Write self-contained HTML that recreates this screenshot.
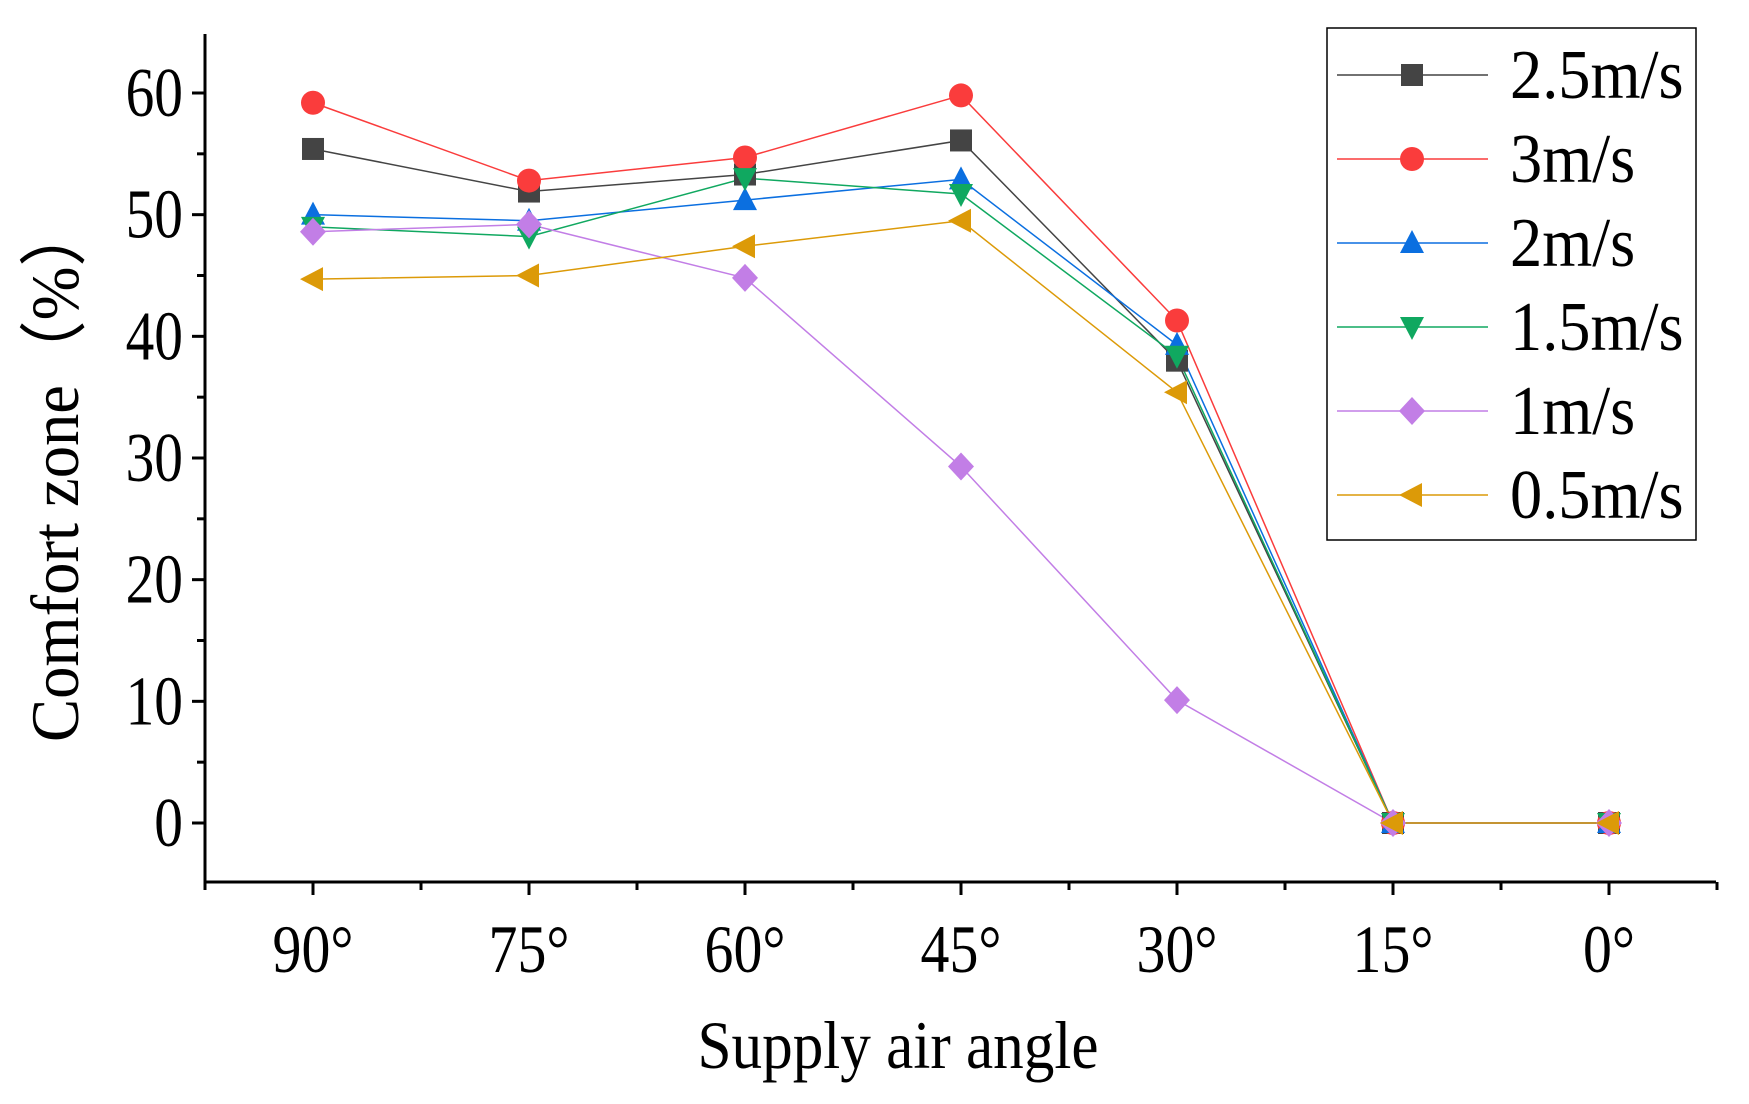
<!DOCTYPE html>
<html><head><meta charset="utf-8"><style>
body{margin:0;background:#fff}
svg{display:block}
text{font-family:"Liberation Serif",serif;fill:#000}
</style></head><body>
<svg id="c" width="1749" height="1104"></svg>
<script>
const categories=["90°","75°","60°","45°","30°","15°","0°"];
const yTicks=[0,10,20,30,40,50,60];
const seriesNames=["2.5m/s","3m/s","2m/s","1.5m/s","1m/s","0.5m/s"];
const s25=[55.4,51.9,53.3,56.1,38.0,0,0];
const s3=[59.2,52.8,54.7,59.8,41.3,0,0];
const s2=[50.0,49.5,51.2,52.9,39.3,0,0];
const s15=[49.0,48.2,53.0,51.7,38.4,0,0];
const s1=[48.6,49.2,44.8,29.3,10.1,0,0];
const s05=[44.7,45.0,47.4,49.5,35.4,0,0];
const seriesValues=[s25,s3,s2,s15,s1,s05];
const colors=["#444444","#fa3c3c","#0b6fe0","#10a860","#c27ee6","#dc9a08"];
const markers=["square","circle","up","down","diamond","left"];
const NS="http://www.w3.org/2000/svg";
const svg=document.getElementById('c');
const L=205,R=1716,T=34,B=882;
const X0=313,X1=1609,Y0=823,Y60=93;
const x=i=>X0+i*(X1-X0)/(categories.length-1);
const y=v=>Y0-v*(Y0-Y60)/60;
function el(t,a,p){const e=document.createElementNS(NS,t);for(const k in a)e.setAttribute(k,a[k]);(p||svg).appendChild(e);return e;}
function marker(g,type,cx,cy,c){
 let e;const r=11;
 if(type==="square")e=el('rect',{x:cx-r,y:cy-r,width:2*r,height:2*r,fill:c},g);
 else if(type==="circle")e=el('circle',{cx:cx,cy:cy,r:r+1,fill:c},g);
 else{let p;
  if(type==="up")p=[[0,-13],[12,10],[-12,10]];
  if(type==="down")p=[[0,13],[12,-10],[-12,-10]];
  if(type==="diamond")p=[[0,-14],[13,0],[0,14],[-13,0]];
  if(type==="left")p=[[-13,0],[10,-12],[10,12]];
  e=el('polygon',{points:p.map(q=>(cx+q[0])+","+(cy+q[1])).join(" "),fill:c},g);}
 
 
}
// text helper with horizontal condensing
function txt(str,cx,cy,size,anchor,sx,p){
 const t=el('text',{x:0,y:0,"font-size":size,"text-anchor":anchor,transform:`translate(${cx} ${cy}) scale(${sx} 1)`},p);
 t.textContent=str;return t;
}
// axes
const ax=el('g',{stroke:"#000","stroke-width":3});


el('line',{x1:L,y1:T,x2:L,y2:B+1.5},ax);
el('line',{x1:L-1.5,y1:B,x2:R,y2:B},ax);
for(let v=-5;v<=65;v+=5){const yy=y(v);if(yy<T-1||yy>B)continue;el('line',{x1:L,y1:yy,x2:L-(v%10===0?13:8),y2:yy},ax);}
const step=(X1-X0)/6;
for(let k=-1;k<=13;k++){const xx=X0+k*step/2;if(xx<L-1||xx>R+1)continue;el('line',{x1:xx,y1:B,x2:xx,y2:B+(k%2===0?13:8)},ax);}
yTicks.forEach(v=>{const t=txt(String(v),L-22,y(v)+23,70,"end",0.82);
});
categories.forEach((c,i)=>{const t=txt(c,x(i),972,68,"middle",0.85);
});
let t=txt("Supply air angle",898,1068,68,"middle",0.9);

t=el('text',{x:0,y:0,"font-size":68,"text-anchor":"middle",transform:"translate(78 472) rotate(-90) scale(0.95 1)"});t.textContent="Comfort zone（%）";

// series
seriesValues.forEach((vals,si)=>{
 const g=el('g',{});
 
 
 el('polyline',{points:vals.map((v,i)=>x(i)+","+y(v)).join(" "),fill:"none",stroke:colors[si],"stroke-width":1.5},g);
});
seriesValues.forEach((vals,si)=>{const g=el('g',{});
 vals.forEach((v,i)=>marker(g,markers[si],x(i),y(v),colors[si]));});
// legend
const lg=el('g',{});


el('rect',{x:1327,y:28,width:369,height:512,fill:"#fff",stroke:"#000","stroke-width":1.5},lg);
seriesNames.forEach((n,i)=>{
 const yy=75+i*84;
 const g=el('g',{},lg);
 
 
 el('line',{x1:1337,y1:yy,x2:1488,y2:yy,stroke:colors[i],"stroke-width":1.5},g);
 marker(g,markers[i],1412,yy,colors[i]);
 txt(n,1510,yy+23,70,"start",0.92,g);
});
</script>
</body></html>
